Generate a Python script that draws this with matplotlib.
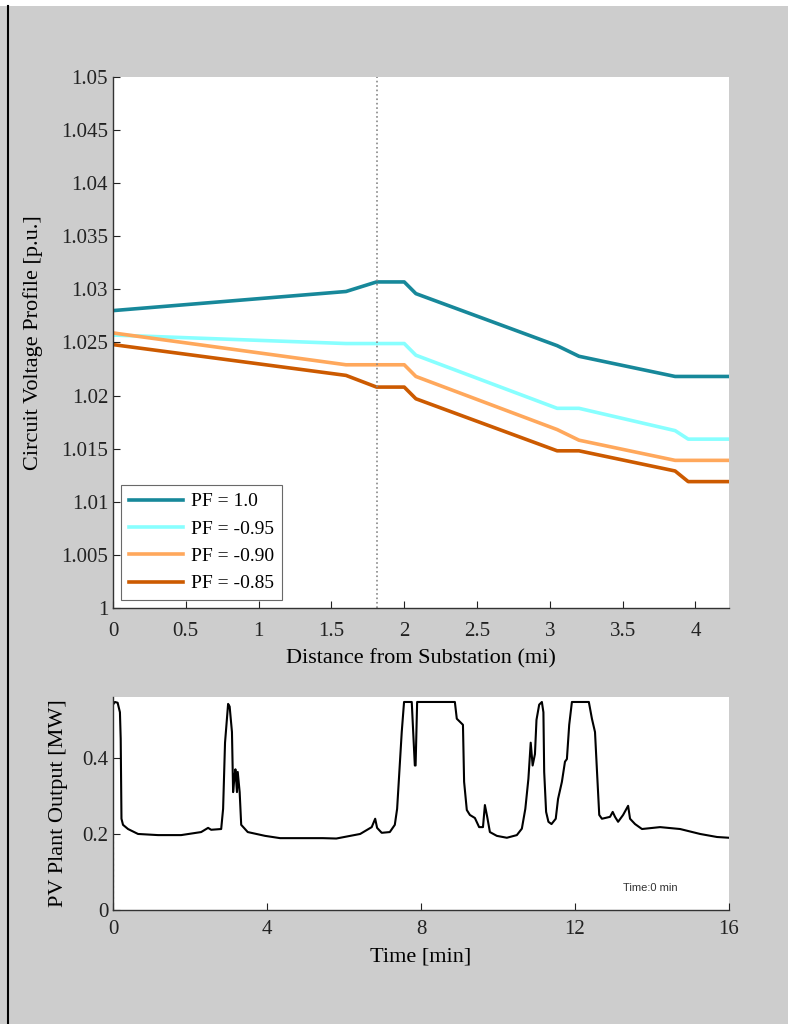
import matplotlib
matplotlib.use("Agg")
import matplotlib.pyplot as plt
from matplotlib.lines import Line2D
from matplotlib.patches import Rectangle

plt.rcParams['font.family'] = ['Liberation Serif', 'DejaVu Serif']

# voltage profile along the feeder (breakpoints in miles)
distance = [0, 1.6, 1.81, 2.0, 2.08, 3.05, 3.2, 3.86, 3.95, 4.23]
v_pf100 = [1.0280, 1.0298, 1.0307, 1.0307, 1.0296, 1.0247, 1.0237, 1.0218, 1.0218, 1.0218]
v_pf095 = [1.0257, 1.0249, 1.0249, 1.0249, 1.0238, 1.0188, 1.0188, 1.0167, 1.0159, 1.0159]
v_pf090 = [1.0259, 1.0229, 1.0229, 1.0229, 1.0218, 1.0168, 1.0158, 1.0139, 1.0139, 1.0139]
v_pf085 = [1.0248, 1.0219, 1.0208, 1.0208, 1.0197, 1.0148, 1.0148, 1.0129, 1.0119, 1.0119]
pf_labels = ['PF = 1.0', 'PF = -0.95', 'PF = -0.90', 'PF = -0.85']
pf_colors = ['#17889a', '#88ffff', '#ffa85c', '#cc5a00']
pv_location = 1.81

# PV plant output over time
time_min = [0.0, 0.05, 0.12, 0.18, 0.2, 0.22, 0.26, 0.39, 0.65, 1.17, 1.77, 2.29, 2.47, 2.55,
            2.81, 2.86, 2.91, 2.99, 3.03, 3.09, 3.12, 3.16, 3.18, 3.22, 3.24, 3.29, 3.33, 3.5,
            3.95, 4.34, 5.45, 5.8, 6.42, 6.72, 6.81, 6.86, 6.98, 7.19, 7.32, 7.38, 7.43, 7.5,
            7.56, 7.76, 7.8, 7.84, 7.86, 7.9, 8.88, 8.93, 9.01, 9.09, 9.12, 9.19, 9.27, 9.4,
            9.51, 9.61, 9.66, 9.72, 9.79, 9.97, 10.23, 10.49, 10.62, 10.71, 10.79, 10.85, 10.9,
            10.96, 11.0, 11.07, 11.14, 11.18, 11.2, 11.25, 11.31, 11.39, 11.5, 11.56, 11.66,
            11.74, 11.79, 11.85, 11.92, 12.36, 12.44, 12.52, 12.57, 12.63, 12.7, 12.91, 12.98,
            13.04, 13.12, 13.25, 13.38, 13.43, 13.56, 13.74, 14.21, 14.73, 15.25, 15.69, 16.0]
pv_mw = [0.54, 0.547, 0.545, 0.52, 0.45, 0.24, 0.224, 0.213, 0.2, 0.197, 0.197, 0.205, 0.216, 0.211,
         0.213, 0.266, 0.44, 0.542, 0.535, 0.468, 0.31, 0.355, 0.37, 0.31, 0.363, 0.31, 0.224, 0.205,
         0.195, 0.189, 0.189, 0.188, 0.2, 0.218, 0.24, 0.216, 0.203, 0.205, 0.224, 0.266, 0.35, 0.468,
         0.547, 0.547, 0.463, 0.38, 0.38, 0.547, 0.547, 0.503, 0.495, 0.487, 0.337, 0.263, 0.25, 0.242,
         0.218, 0.218, 0.276, 0.245, 0.205, 0.195, 0.19, 0.197, 0.214, 0.266, 0.345, 0.44, 0.38,
         0.41, 0.5, 0.54, 0.547, 0.52, 0.363, 0.258, 0.232, 0.226, 0.24, 0.292, 0.337,
         0.39, 0.397, 0.487, 0.547, 0.547, 0.503, 0.468, 0.368, 0.25, 0.24, 0.245, 0.258,
         0.245, 0.232, 0.25, 0.274, 0.24, 0.226, 0.213, 0.218, 0.213, 0.2, 0.192, 0.19]
cursor_time = 0.0

fig = plt.figure(figsize=(7.88, 10.24), dpi=100, facecolor='#cdcdcd')
fig.add_artist(Rectangle((0, 0.994), 1, 0.006, transform=fig.transFigure,
                         facecolor='white', edgecolor='none'))
fig.add_artist(Line2D([0.0105, 0.0105], [0, 0.994], transform=fig.transFigure,
                      color='black', lw=1.5))


def style_axes(ax, xpad):
    for side in ['top', 'right']:
        ax.spines[side].set_visible(False)
    for side in ['left', 'bottom']:
        ax.spines[side].set_color('#333333')
        ax.spines[side].set_linewidth(1.0)
    ax.tick_params(direction='in', length=5, labelsize=15, colors='#222222')
    ax.tick_params(axis='x', pad=xpad)


# top: voltage profile
ax1 = fig.add_axes([0.1434, 0.40625, 0.7817, 0.5186])
style_axes(ax1, 10)
series = [v_pf100, v_pf095, v_pf090, v_pf085]
for vals, lab, col in zip(series, pf_labels, pf_colors):
    ax1.plot(distance, vals, color=col, lw=2.6, label=lab)
ax1.axvline(pv_location, color='#888888', ls=':', lw=1.2)
ax1.set_xlim(0, 4.23)
ax1.set_ylim(1.0, 1.05)
ax1.set_xticks([0, 0.5, 1, 1.5, 2, 2.5, 3, 3.5, 4])
ax1.set_xticklabels(['0', '0.5', '1', '1.5', '2', '2.5', '3', '3.5', '4'])
yt = [1.0, 1.005, 1.01, 1.015, 1.02, 1.025, 1.03, 1.035, 1.04, 1.045, 1.05]
ax1.set_yticks(yt)
ax1.set_yticklabels(['%g' % v for v in yt])
ax1.set_xlabel('Distance from Substation (mi)', fontsize=16, labelpad=6)
ax1.set_ylabel('Circuit Voltage Profile [p.u.]', fontsize=16, labelpad=13)
leg = ax1.legend(loc='lower left', fontsize=14, frameon=True, fancybox=False,
                 edgecolor='#444444', handlelength=2.8, borderaxespad=0.4,
                 labelspacing=0.5, handletextpad=0.4)
leg.get_frame().set_linewidth(0.8)

# bottom: PV output
ax2 = fig.add_axes([0.1434, 0.1113, 0.7817, 0.208])
style_axes(ax2, 7.5)
ax2.plot(time_min, pv_mw, color='black', lw=1.5)
ax2.vlines(cursor_time, 0, 0.2, color='#555555', ls=':', lw=1.5)
ax2.set_xlim(0, 16)
ax2.set_ylim(0, 0.56)
ax2.set_xticks([0, 4, 8, 12, 16])
ax2.set_yticks([0, 0.2, 0.4])
ax2.set_yticklabels(['0', '0.2', '0.4'])
ax2.set_xlabel('Time [min]', fontsize=16, labelpad=6)
ax2.set_ylabel('PV Plant Output [MW]', fontsize=16, labelpad=10)
ax2.text(0.873, 0.105, 'Time:0 min', transform=ax2.transAxes, fontsize=8,
         family='Liberation Sans', color='#333333', ha='center', va='center')

fig.savefig('out.png', dpi=100, facecolor=fig.get_facecolor())
